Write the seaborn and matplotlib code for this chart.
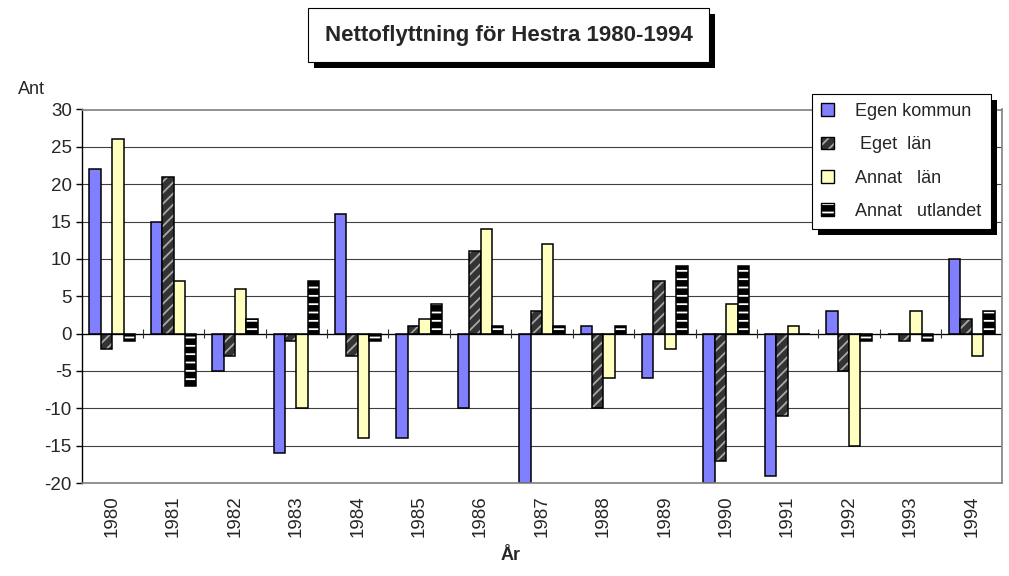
#Nettoflyttning for Hestra 1980-1994, grouped bars per year
import numpy as np
import pandas as pds
import matplotlib.pyplot as plt
import matplotlib.patheffects as pe
from matplotlib.colors import to_rgba
from matplotlib.patches import Patch, Rectangle
import seaborn as sns

years = ['1980', '1981', '1982', '1983', '1984', '1985', '1986', '1987',
         '1988', '1989', '1990', '1991', '1992', '1993', '1994']
egen_kommun = [22, 15, -5, -16, 16, -14, -10, -20, 1, -6, -20, -19, 3, 0, 10]
eget_lan = [-2, 21, -3, -1, -3, 1, 11, 3, -10, 7, -17, -11, -5, -1, 2]
annat_lan = [26, 7, 6, -10, -14, 2, 14, 12, -6, -2, 4, 1, -15, 3, -3]
annat_utlandet = [-1, -7, 2, 7, -1, 4, 1, 1, 1, 9, 9, 0, -1, -1, 3]

series = ['Egen kommun', ' Eget  län', 'Annat   län', 'Annat   utlandet']
colors = ['#8080FF', '#333333', '#FFFFC0', '#000000']
hatches = [None, '///', None, '--']
hatch_colors = [None, '#A8A8A8', None, '#FFFFFF']
y_ticks = [-20, -15, -10, -5, 0, 5, 10, 15, 20, 25, 30]


def main():
    sns.set_style("white")
    plt.rcParams['font.family'] = ['Liberation Sans', 'DejaVu Sans']
    plt.rcParams['axes.unicode_minus'] = False
    plt.rcParams['hatch.linewidth'] = 1.3
    netto()


def build_frame():
    rows = []
    for name, vals in zip(series, [egen_kommun, eget_lan, annat_lan, annat_utlandet]):
        for yr, v in zip(years, vals):
            rows.append({'År': yr, 'Ant': v, 'Serie': name})
    return pds.DataFrame(rows)


def shadow(dx=4.3, dy=-4.3):
    return [pe.SimplePatchShadow(offset=(dx, dy), shadow_rgbFace='black', alpha=1.0), pe.Normal()]


def netto():
    fig = plt.figure(figsize=(10.09, 5.76), dpi=100)
    ax = fig.add_axes([81.5 / 1009, 1 - 483 / 576, (1002.5 - 81.5) / 1009, (483 - 109.5) / 576])

    sns.barplot(data=build_frame(), x='År', y='Ant', hue='Serie', order=years,
                hue_order=series, palette=dict(zip(series, colors)), width=0.74,
                edgecolor='black', linewidth=1.1, errorbar=None, legend=False,
                saturation=1, ax=ax)

    # hatching: hatch colour follows edgecolor, so set it by hand afterwards
    for cont, h, hc in zip(ax.containers, hatches, hatch_colors):
        if h is None:
            continue
        for p in cont.patches:
            p.set_hatch(h)
            p._hatch_color = to_rgba(hc)

    ax.set_ylim(-20, 30)
    ax.set_xlim(-0.5, len(years) - 0.5)
    ax.set_yticks(y_ticks)
    ax.set_axisbelow(True)
    ax.grid(axis='y', color='#404040', linewidth=0.8)
    ax.axhline(0, color='black', linewidth=0.9, zorder=1.5)
    # small category separators on the zero line
    ax.vlines(np.arange(0.5, len(years) - 0.5), -0.6, 0.6, color='#303030', linewidth=0.8, zorder=1.5)

    for side in ['top', 'right', 'bottom']:
        ax.spines[side].set_color('#808080')
        ax.spines[side].set_linewidth(1.2)
    ax.spines['left'].set_color('black')
    ax.spines['left'].set_linewidth(1.0)

    ax.tick_params(axis='y', length=4, width=1, color='black', labelsize=13.5, pad=3, left=True)
    ax.tick_params(axis='x', length=0, labelsize=13.5, pad=9, labelrotation=90)
    ax.set_xlabel('')
    ax.set_ylabel('')

    handles = []
    for c, h, hc in zip(colors, hatches, hatch_colors):
        hp = Patch(facecolor=c, edgecolor='black', linewidth=1.0, hatch=h)
        if hc is not None:
            hp._hatch_color = to_rgba(hc)
        handles.append(hp)
    leg = ax.legend(handles, series, loc='upper left', bbox_to_anchor=(812 / 1009, 1 - 94 / 576),
                    bbox_transform=fig.transFigure, fontsize=13, frameon=True, fancybox=False,
                    borderpad=0.5, labelspacing=0.9, handlelength=0.7, handleheight=0.7,
                    handletextpad=1.2, borderaxespad=0)
    frame = leg.get_frame()
    frame.set_edgecolor('black')
    frame.set_linewidth(0.8)
    frame.set_alpha(1)
    frame.set_path_effects(shadow())

    # title in a box with shadow
    box = Rectangle((308 / 1009, 1 - 62 / 576), 401 / 1009, 54 / 576, transform=fig.transFigure,
                    facecolor='white', edgecolor='black', linewidth=0.8)
    box.set_path_effects(shadow())
    fig.patches.append(box)
    fig.text(508.5 / 1009, 1 - 35 / 576, 'Nettoflyttning för Hestra 1980-1994',
             ha='center', va='center', fontsize=16, fontweight='bold')

    fig.text(18 / 1009, 1 - 90 / 576, 'Ant', ha='left', va='center', fontsize=13)
    fig.text(511 / 1009, 1 - 556 / 576, 'År', ha='center', va='center', fontsize=13, fontweight='bold')

    fig.savefig('out.png', dpi=100)


if __name__ == '__main__':
    main()
